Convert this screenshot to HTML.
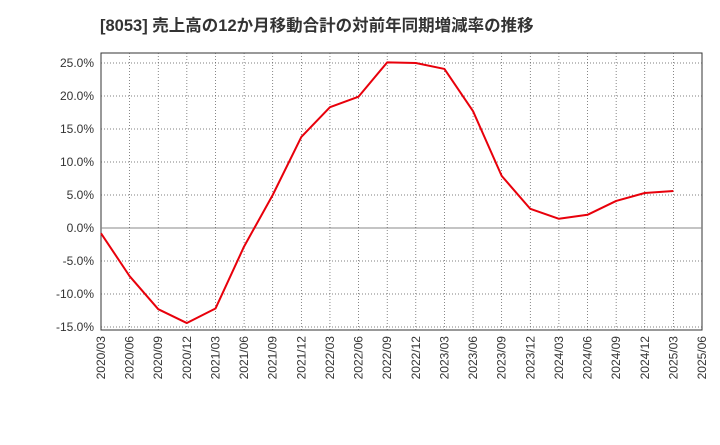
<!DOCTYPE html>
<html><head><meta charset="utf-8"><style>
body{margin:0;background:#fff;width:720px;height:440px;overflow:hidden}
svg text{font-family:"Liberation Sans","Noto Sans CJK JP",sans-serif}
</style></head><body>
<svg id="c" width="720" height="440" xmlns="http://www.w3.org/2000/svg">
<text x="100" y="31" font-size="16.5" font-weight="bold" fill="#333">[8053]  売上高の12か月移動合計の対前年同期増減率の推移</text>
<rect x="101" y="53" width="601" height="277" fill="none" stroke="#333" stroke-width="1"/>
<g id="grid"></g><g id="yt"></g><g id="xt"></g><g id="ser"></g>
</svg>
<script>
const xLabels=["2020/03","2020/06","2020/09","2020/12","2021/03","2021/06","2021/09","2021/12","2022/03","2022/06","2022/09","2022/12","2023/03","2023/06","2023/09","2023/12","2024/03","2024/06","2024/09","2024/12","2025/03","2025/06"];
const yTicks=[-15,-10,-5,0,5,10,15,20,25];
const values=[-0.8,-7.3,-12.3,-14.4,-12.2,-2.8,5.0,13.8,18.3,19.9,25.1,25.0,24.1,17.7,7.9,2.9,1.4,2.0,4.1,5.3,5.6];
const NS="http://www.w3.org/2000/svg";
const x=i=>101+i*601/(xLabels.length-1);
const y=v=>228-v*6.6;
function mk(t,a,p){const e=document.createElementNS(NS,t);for(const k in a)e.setAttribute(k,a[k]);document.getElementById(p).appendChild(e);return e;}
yTicks.forEach(v=>{
  const l=mk('line',{x1:101,x2:702,y1:y(v),y2:y(v),stroke:v===0?'#888':'#555','stroke-width':v===0?1:0.7,'stroke-dasharray':v===0?'':'1,2'},'grid');
  
  
  const t=mk('text',{x:94,y:y(v)+4,'text-anchor':'end','font-size':12,fill:'#333'},'yt');
  t.textContent=v.toFixed(1)+'%';
  
  
});
xLabels.forEach((s,i)=>{
  if(i>0&&i<xLabels.length-1){
    const l=mk('line',{x1:x(i),x2:x(i),y1:53,y2:330,stroke:'#555','stroke-width':0.7,'stroke-dasharray':'1,2'},'grid');
    
    
  }
  const t=mk('text',{x:0,y:0,'text-anchor':'end','font-size':12,fill:'#333',transform:`translate(${x(i)+4},336) rotate(-90)`},'xt');
  t.textContent=s;
  
  
});
const p=mk('polyline',{points:values.map((v,i)=>x(i)+','+y(v)).join(' '),fill:'none',stroke:'#e8000b','stroke-width':2,'stroke-linejoin':'round'},'ser');


</script>
</body></html>
